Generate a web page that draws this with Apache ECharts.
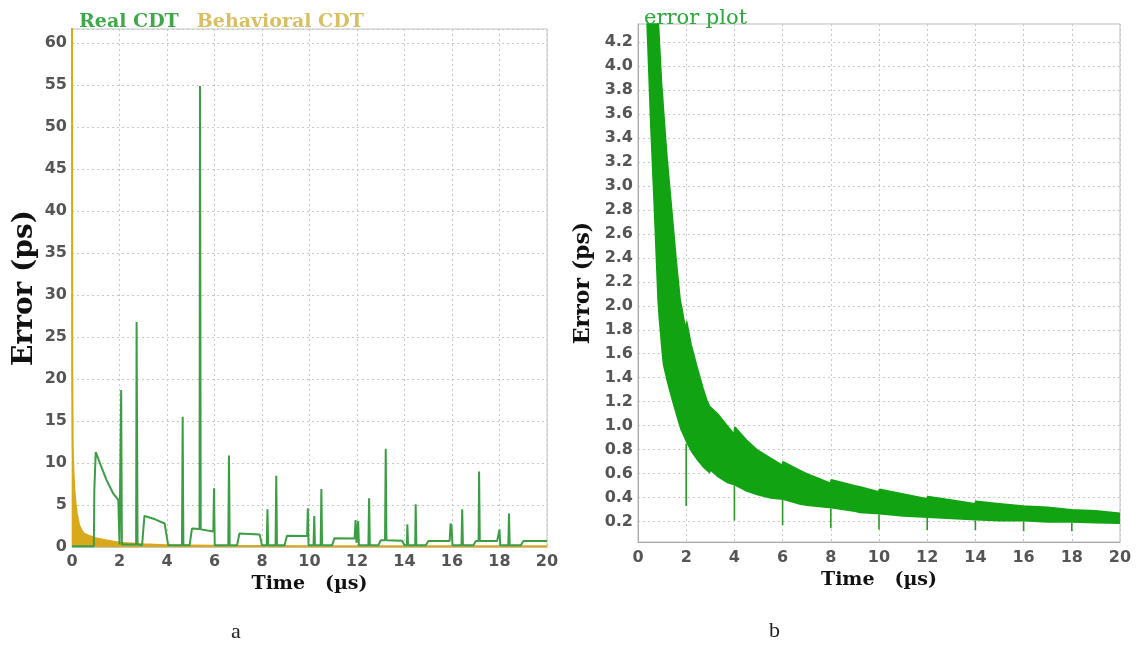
<!DOCTYPE html>
<html>
<head>
<meta charset="utf-8">
<script src="https://cdn.jsdelivr.net/npm/echarts@6/dist/echarts.min.js"></script>
<style>
html,body{margin:0;padding:0;background:#fff;}
#c{width:1138px;height:647px;}
</style>
</head>
<body>
<div id="c"></div>
<script>
// ---- Panel a: Real CDT (green) ----
const realT = [0,0.92,0.94,0.98,1.0,1.2,1.45,1.73,1.95,2.0,2.05,2.07,2.1,2.7,2.72,2.76,2.95,3.05,3.5,3.9,4.05,4.63,4.66,4.69,4.95,5.05,5.37,5.39,5.42,5.95,5.98,6.01,6.58,6.61,6.64,6.95,7.05,7.9,8.0,8.2,8.23,8.26,8.57,8.6,8.63,8.95,9.05,9.9,9.93,9.96,10.17,10.2,10.23,10.47,10.5,10.53,10.95,11.05,11.9,11.94,11.98,12.05,12.08,12.48,12.51,12.54,12.9,13.0,13.18,13.21,13.24,13.9,14.0,14.1,14.12,14.15,14.45,14.47,14.5,14.9,15.0,15.9,15.94,15.98,16.02,16.4,16.43,16.46,16.9,17.0,17.12,17.14,17.17,17.9,18.0,18.03,18.37,18.4,18.43,18.9,19.0,19.95,20];
const realV = [0.1,0.1,6.8,7.0,11.3,9.8,8.0,6.4,5.6,0.3,0.3,18.7,0.3,0.3,26.8,0.3,0.2,3.7,3.3,2.8,0.2,0.2,15.5,0.2,0.2,2.2,2.15,54.9,2.1,1.85,7.0,0.2,0.2,10.9,0.2,0.2,1.6,1.5,0.2,0.2,4.5,0.2,0.2,8.5,0.2,0.2,1.35,1.3,4.6,0.2,0.2,3.7,0.2,0.2,6.9,0.2,0.2,1.05,1.0,3.2,0.5,3.1,0.2,0.2,5.8,0.2,0.2,0.8,0.8,11.7,0.8,0.75,0.2,0.2,2.7,0.2,0.2,5.1,0.2,0.2,0.7,0.7,2.8,2.5,0.2,0.2,4.5,0.2,0.2,0.7,0.7,9.0,0.7,0.7,2.1,0.2,0.2,4.0,0.2,0.2,0.7,0.7,0.7];
// ---- Panel a: Behavioral CDT (gold) ----
const behT = [0,0.01,0.03,0.06,0.1,0.15,0.2,0.3,0.4,0.5,0.7,1.0,1.4,2.0,3.0,4.0,6.0,10.0,20.0];
const behV = [62,21,12,9,6.8,5.2,4.0,2.6,2.0,1.6,1.35,1.05,0.8,0.5,0.32,0.22,0.15,0.1,0.08];
// ---- Panel b: error plot envelope ----
const errT = [0.30,0.50,0.65,0.80,0.85,0.98,1.02,1.06,1.20,1.40,1.60,1.75,1.82,1.98,2.02,2.20,2.45,2.70,2.86,2.98,3.02,3.30,3.70,3.98,4.02,4.50,4.93,5.50,5.98,6.02,6.70,7.00,7.50,7.98,8.02,9.00,9.20,9.98,10.02,11.00,11.98,12.02,13.00,13.98,14.02,15.00,15.98,16.02,17.00,17.98,18.02,19.00,20.00];
const errUpper = [6.5,5.6,5.0,4.5,4.35,3.85,3.75,3.63,3.25,2.8,2.35,2.05,1.98,1.80,1.87,1.68,1.49,1.31,1.21,1.16,1.17,1.10,1.00,0.93,0.99,0.88,0.80,0.73,0.67,0.70,0.63,0.60,0.56,0.52,0.55,0.50,0.49,0.45,0.47,0.43,0.39,0.41,0.38,0.35,0.37,0.35,0.33,0.34,0.32,0.30,0.31,0.29,0.27];
const errLower = [4.6,3.5,2.8,2.05,1.9,1.6,1.52,1.48,1.36,1.21,1.07,0.97,0.94,0.86,0.85,0.78,0.71,0.65,0.62,0.60,0.62,0.57,0.52,0.49,0.50,0.45,0.42,0.39,0.37,0.38,0.34,0.33,0.32,0.30,0.31,0.28,0.27,0.25,0.26,0.24,0.22,0.23,0.22,0.21,0.21,0.20,0.20,0.20,0.19,0.19,0.19,0.185,0.18];
const dipT = [2,4,6,8,10,12,14,16,18];
const dipTop = [0.85,0.5,0.38,0.31,0.26,0.23,0.21,0.2,0.19];
const dipBottom = [0.33,0.21,0.17,0.145,0.135,0.13,0.13,0.12,0.12];
const yTicksB = [0.2,0.4,0.6,0.8,1.0,1.2,1.4,1.6,1.8,2.0,2.2,2.4,2.6,2.8,3.0,3.2,3.4,3.6,3.8,4.0,4.2];

const GREEN_A = '#3c9e44';
const GOLD = '#d9a91c';
const GOLD_TXT = '#d8bf63';
const GREEN_B = '#12a312';

const zip = (a, b) => a.map((v, i) => [v, b[i]]);
const realData = zip(realT, realV);
const behData = zip(behT, behV);
// value first so the stack applies to the y dimension
const lowerData = errT.map((t, i) => [errLower[i], t]);
const bandData = errT.map((t, i) => [errUpper[i] - errLower[i], t]);
const dipData = [];
dipT.forEach((t, i) => { dipData.push([t, dipTop[i]], [t, dipBottom[i]], [null, null]); });

const tickFont = { fontFamily: 'DejaVu Sans', fontWeight: 'bold', fontSize: 16, color: '#555' };
const nameFont = { fontFamily: 'DejaVu Serif', fontWeight: 'bold', color: '#111' };
const gridLine = { show: true, lineStyle: { color: '#c8c8c8', type: [2, 3], width: 1 } };

const chart = echarts.init(document.getElementById('c'));
chart.setOption({
  animation: false,
  backgroundColor: '#fff',
  legend: [
    { left: 68, top: 8, itemWidth: 0, itemHeight: 0, itemGap: 12,
      textStyle: { fontFamily: 'DejaVu Serif', fontWeight: 'bold', fontSize: 19 },
      data: [{ name: 'Real CDT', textStyle: { color: '#3fa84a' } },
             { name: 'Behavioral CDT', textStyle: { color: GOLD_TXT } }],
      selectedMode: false },
    { left: 633, top: 3, itemWidth: 0, itemHeight: 0,
      textStyle: { fontFamily: 'DejaVu Serif', fontWeight: 'normal', fontSize: 21, color: '#2aa83a' },
      data: [{ name: 'error plot' }], selectedMode: false }
  ],
  grid: [
    { left: 72, top: 29, width: 475, height: 518, show: true, borderColor: '#c4c4c4', borderWidth: 1 },
    { left: 638, top: 24, width: 482, height: 518, show: true, borderColor: '#bdbdbd', borderWidth: 1 }
  ],
  xAxis: [
    { gridIndex: 0, type: 'value', min: 0, max: 20, interval: 2,
      name: 'Time   (\u00b5s)', nameLocation: 'middle', nameGap: 24,
      nameTextStyle: Object.assign({ fontSize: 19 }, nameFont),
      axisLine: { lineStyle: { color: '#c4c4c4' } }, axisTick: { show: false },
      axisLabel: Object.assign({ margin: 7 }, tickFont), splitLine: gridLine },
    { gridIndex: 1, type: 'value', min: 0, max: 20, interval: 2,
      name: 'Time   (\u00b5s)', nameLocation: 'middle', nameGap: 26,
      nameTextStyle: Object.assign({ fontSize: 19 }, nameFont),
      axisLine: { lineStyle: { color: '#aaa' } }, axisTick: { show: false },
      axisLabel: Object.assign({ margin: 8 }, tickFont), splitLine: gridLine }
  ],
  yAxis: [
    { gridIndex: 0, type: 'value', min: 0, max: 61.7, interval: 5,
      name: 'Error (ps)', nameLocation: 'middle', nameRotate: 90, nameGap: 33,
      nameTextStyle: Object.assign({ fontSize: 28 }, nameFont),
      axisLine: { lineStyle: { color: '#c4c4c4' } }, axisTick: { show: false },
      axisLabel: Object.assign({ margin: 5, formatter: v => (Math.abs(v % 5) < 1e-6 ? String(v) : '') }, tickFont),
      splitLine: gridLine },
    { gridIndex: 1, type: 'value', min: 0.03, max: 4.35,
      name: 'Error (ps)', nameLocation: 'middle', nameRotate: 90, nameGap: 44,
      nameTextStyle: Object.assign({ fontSize: 22 }, nameFont),
      axisLine: { lineStyle: { color: '#aaa' } },
      axisTick: { show: false, customValues: yTicksB },
      axisLabel: Object.assign({ margin: 5, customValues: yTicksB, formatter: v => v.toFixed(1) }, tickFont),
      splitLine: gridLine }
  ],
  series: [
    { name: 'Behavioral CDT', type: 'line', xAxisIndex: 0, yAxisIndex: 0, data: behData,
      showSymbol: false, silent: true, lineStyle: { color: GOLD, width: 2 },
      itemStyle: { color: GOLD_TXT }, areaStyle: { color: GOLD, opacity: 1 } },
    { name: 'Real CDT', type: 'line', xAxisIndex: 0, yAxisIndex: 0, data: realData,
      showSymbol: false, silent: true, lineStyle: { color: GREEN_A, width: 2 }, itemStyle: { color: GREEN_A } },
    { name: 'lower', type: 'line', xAxisIndex: 1, yAxisIndex: 1, data: lowerData, stack: 'band',
      encode: { x: 1, y: 0 },
      showSymbol: false, silent: true, lineStyle: { opacity: 0 }, areaStyle: { opacity: 0 } },
    { name: 'error plot', type: 'line', xAxisIndex: 1, yAxisIndex: 1, data: bandData, stack: 'band',
      encode: { x: 1, y: 0 },
      showSymbol: false, silent: true, lineStyle: { color: GREEN_B, width: 1.5 },
      itemStyle: { color: GREEN_B }, areaStyle: { color: GREEN_B, opacity: 1 } },
    { name: 'dips', type: 'line', xAxisIndex: 1, yAxisIndex: 1, data: dipData, connectNulls: false,
      showSymbol: false, silent: true, lineStyle: { color: '#2a9a2a', width: 1.6 } }
  ],
  graphic: [
    { type: 'text', left: 231, top: 621, style: { text: 'a', font: '22px "Liberation Serif"', fill: '#222' } },
    { type: 'text', left: 769, top: 620, style: { text: 'b', font: '22px "Liberation Serif"', fill: '#222' } }
  ]
});
</script>
</body>
</html>
